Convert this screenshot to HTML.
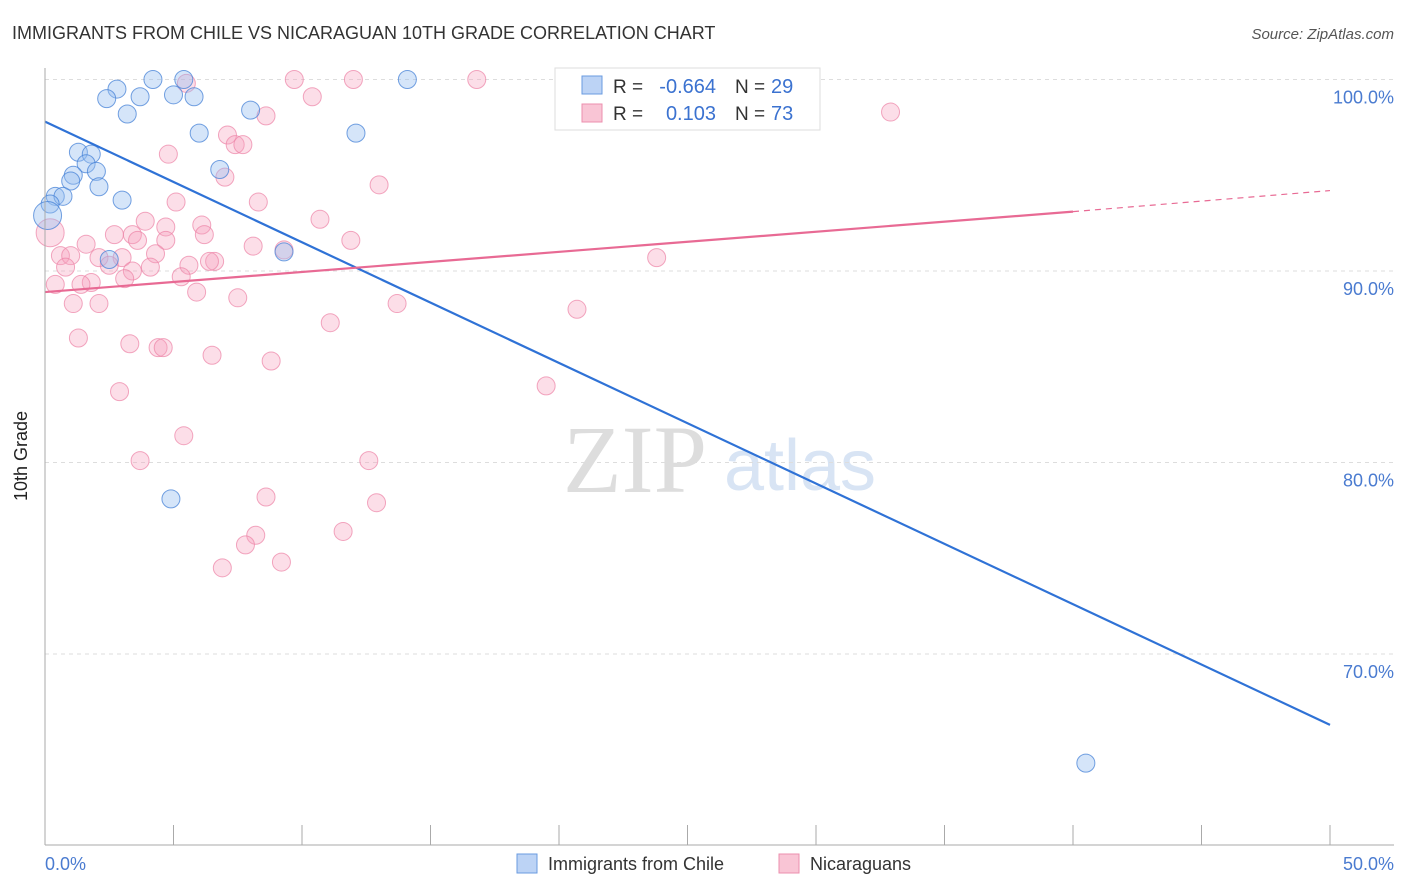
<!DOCTYPE html>
<html><head><meta charset="utf-8"><style>
body{margin:0;background:#fff;font-family:"Liberation Sans",sans-serif;}
svg{display:block}
</style></head><body>
<svg id="c" width="1406" height="892" xmlns="http://www.w3.org/2000/svg">
<text x="12" y="39" font-size="18" fill="#333">IMMIGRANTS FROM CHILE VS NICARAGUAN 10TH GRADE CORRELATION CHART</text>
<text x="1394" y="39" font-size="15" fill="#555" font-style="italic" text-anchor="end">Source: ZipAtlas.com</text>
<text x="635" y="492" font-size="96" fill="#ddd" font-family="Liberation Serif" text-anchor="middle">ZIP</text>
<text x="800" y="490" font-size="72" fill="#d8e4f4" text-anchor="middle">atlas</text>
<g id="grid"></g><g id="pts"></g><g id="lines"></g>
<line x1="45" y1="68" x2="45" y2="845" stroke="#aaa"/>
<line x1="45" y1="845" x2="1394" y2="845" stroke="#aaa"/>
<text x="27" y="456" font-size="18" fill="#222" transform="rotate(-90 27 456)" text-anchor="middle">10th Grade</text>
<text x="45" y="870" font-size="18" fill="#4a7bd0">0.0%</text>
<text x="1394" y="870" font-size="18" fill="#4a7bd0" text-anchor="end">50.0%</text>
<g>
<rect x="555" y="68" width="265" height="62" fill="#fff" stroke="#ddd"/>
<rect x="582" y="76" width="20" height="18" fill="#bcd3f5" stroke="#6a9be0"/>
<rect x="582" y="104" width="20" height="18" fill="#f9c5d5" stroke="#ec8fae"/>
<text x="613" y="93" font-size="19" fill="#333">R =</text>
<text x="716" y="93" font-size="20" fill="#3b72d0" text-anchor="end">-0.664</text>
<text x="735" y="93" font-size="19" fill="#333">N =</text>
<text x="771" y="93" font-size="20" fill="#3b72d0">29</text>
<text x="613" y="120" font-size="19" fill="#333">R =</text>
<text x="716" y="120" font-size="20" fill="#3b72d0" text-anchor="end">0.103</text>
<text x="735" y="120" font-size="19" fill="#333">N =</text>
<text x="771" y="120" font-size="20" fill="#3b72d0">73</text>
</g>
<g>
<rect x="517" y="854" width="20" height="19" fill="#bcd3f5" stroke="#6a9be0"/>
<text x="548" y="870" font-size="18" fill="#333">Immigrants from Chile</text>
<rect x="779" y="854" width="20" height="19" fill="#f9c5d5" stroke="#ec8fae"/>
<text x="810" y="870" font-size="18" fill="#333">Nicaraguans</text>
</g>
</svg>
<script>
const yTicks=[100,90,80,70];
const xTicks=[0,5,10,15,20,25,30,35,40,45,50];
const chileX=[4.2,5.4,14.1,2.8,2.4,3.7,5.0,5.8,3.2,8.0,6.0,12.1,1.3,1.8,1.6,2.0,1.1,1.0,2.1,6.8,0.4,0.7,3.0,0.2,0.1,2.5,9.3,4.9,40.5];
const chileY=[100,100,100,99.5,99.0,99.1,99.2,99.1,98.2,98.4,97.2,97.2,96.2,96.1,95.6,95.2,95.0,94.7,94.4,95.3,93.9,93.9,93.7,93.5,92.9,90.6,91.0,78.1,64.3];
const nicX=[5.5,9.7,12.0,16.8,10.4,32.9,8.6,7.1,7.4,7.7,4.8,7.0,13.0,5.1,8.3,10.7,3.9,6.1,4.7,2.7,3.4,6.2,4.7,1.6,3.6,8.1,11.9,9.3,0.6,1.0,2.1,4.3,3.0,6.6,6.4,23.8,0.8,2.5,5.6,4.1,3.4,5.3,3.1,1.8,1.4,0.4,5.9,7.5,1.1,2.1,13.7,20.7,11.1,1.3,3.3,4.4,4.6,6.5,8.8,19.5,2.9,5.4,3.7,12.6,8.6,12.9,11.6,8.2,7.8,6.9,9.2,0.2];
const nicY=[99.8,100,100,100,99.1,98.3,98.1,97.1,96.6,96.6,96.1,94.9,94.5,93.6,93.6,92.7,92.6,92.4,92.3,91.9,91.9,91.9,91.6,91.4,91.6,91.3,91.6,91.1,90.8,90.8,90.7,90.9,90.7,90.5,90.5,90.7,90.2,90.3,90.3,90.2,90.0,89.7,89.6,89.4,89.3,89.3,88.9,88.6,88.3,88.3,88.3,88.0,87.3,86.5,86.2,86.0,86.0,85.6,85.3,84.0,83.7,81.4,80.1,80.1,78.2,77.9,76.4,76.2,75.7,74.5,74.8,92.0];
const chileTrend=[0,97.8,50,66.3];
const nicTrend=[0,88.9,40,93.1,50,94.2];
const sx=v=>45+v*25.7, sy=v=>79.5+(100-v)*19.15;
const NS='http://www.w3.org/2000/svg';
function mk(tag,attrs,parent){const e=document.createElementNS(NS,tag);for(const k in attrs)e.setAttribute(k,attrs[k]);document.getElementById(parent).appendChild(e);return e;}
yTicks.forEach(t=>{
 const l=mk('line',{x1:45,x2:1394,y1:sy(t),y2:sy(t),stroke:'#ddd','stroke-dasharray':'4 4'},'grid');
 
 
 const tx=mk('text',{x:1394,y:sy(t)+24,'font-size':18,fill:'#4a7bd0','text-anchor':'end'},'grid');
 tx.textContent=t.toFixed(1)+'%';
 
 
});
xTicks.forEach(t=>{
 const l=mk('line',{x1:sx(t),x2:sx(t),y1:825,y2:845,stroke:'#aaa'},'grid');
 
 
});
nicX.forEach((x,i)=>{
 const c=mk('circle',{cx:sx(x),cy:sy(nicY[i]),r:i==nicX.length-1?14:9,fill:'rgba(245,160,190,0.35)',stroke:'rgba(236,130,165,0.7)','stroke-width':1},'pts');
 
 
});
chileX.forEach((x,i)=>{
 const c=mk('circle',{cx:sx(x),cy:sy(chileY[i]),r:i==24?14:9,fill:'rgba(150,190,240,0.4)',stroke:'rgba(70,130,215,0.75)','stroke-width':1},'pts');
 
 
});
let l=mk('line',{x1:sx(chileTrend[0]),y1:sy(chileTrend[1]),x2:sx(chileTrend[2]),y2:sy(chileTrend[3]),stroke:'#2f72d6','stroke-width':2.2},'lines');


l=mk('line',{x1:sx(nicTrend[0]),y1:sy(nicTrend[1]),x2:sx(nicTrend[2]),y2:sy(nicTrend[3]),stroke:'#e86a94','stroke-width':2.2},'lines');


l=mk('line',{x1:sx(nicTrend[2]),y1:sy(nicTrend[3]),x2:sx(nicTrend[4]),y2:sy(nicTrend[5]),stroke:'#e86a94','stroke-width':1.2,'stroke-dasharray':'6 5'},'lines');


</script>
</body></html>
